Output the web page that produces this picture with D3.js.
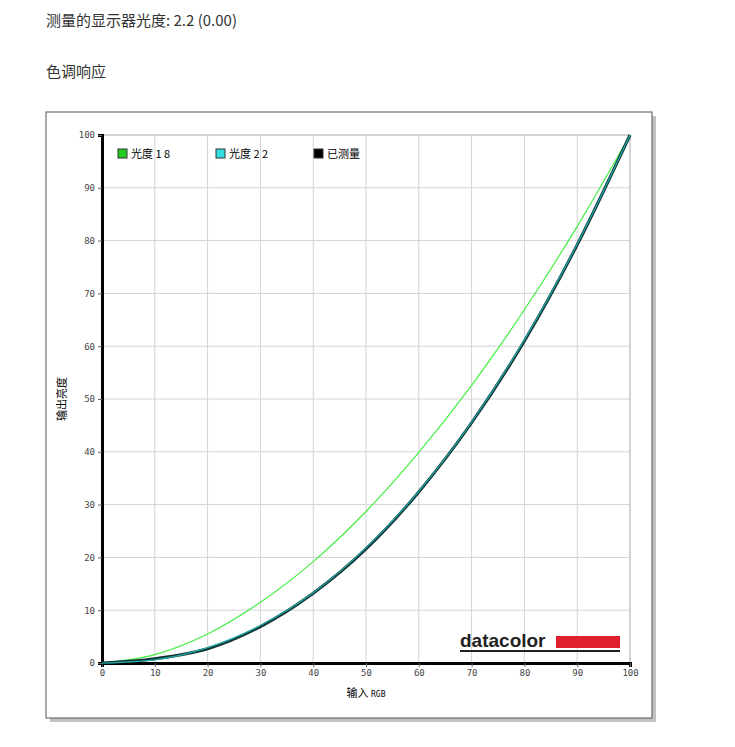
<!DOCTYPE html>
<html><head><meta charset="utf-8">
<script src="https://cdn.jsdelivr.net/npm/d3@7"></script>
<style>body{margin:0;background:#fff;font-family:"Noto Sans CJK SC",sans-serif;}</style>
</head><body>
<script>
// values
var inputs = [0,10,20,30,40,50,60,70,80,90,100];
var gamma18 = [0,1.6,5.5,11.5,19.2,28.7,39.9,52.6,66.9,82.7,100];
var gamma22 = [0,0.6,2.9,7.1,13.3,21.8,32.5,45.6,61.2,79.3,100];
var measured = [0,0.8,2.7,6.9,13.2,21.6,32.4,45.5,61.0,79.2,100];
var ticks = [0,10,20,30,40,50,60,70,80,90,100];
var legendItems = [{name:"光度 1 8",color:"#22cc22"},{name:"光度 2 2",color:"#33dddd"},{name:"已测量",color:"#000"}];

var svg = d3.select("body").append("svg").attr("width",735).attr("height",747);

svg.append("text").attr("x",46).attr("y",26).attr("font-size",15).attr("fill","#333").text("测量的显示器光度:  2.2 (0.00)");
svg.append("text").attr("x",46).attr("y",77).attr("font-size",15).attr("fill","#333").text("色调响应");

// frame with shadow
svg.append("rect").attr("x",50).attr("y",116).attr("width",606).attr("height",606).attr("fill","#999").attr("opacity",0.6);
svg.append("rect").attr("x",46).attr("y",112).attr("width",606).attr("height",606).attr("fill","#fff").attr("stroke","#555");

var x = d3.scaleLinear().domain([0,100]).range([102,630]);
var y = d3.scaleLinear().domain([0,100]).range([663,135]);

var g = svg.append("g");
g.selectAll(".vg").data(ticks).enter().append("line")
  .attr("x1",d=>x(d)).attr("x2",d=>x(d)).attr("y1",y(0)).attr("y2",y(100)).attr("stroke","#d4d4d4");
g.selectAll(".hg").data(ticks).enter().append("line")
  .attr("x1",x(0)).attr("x2",x(100)).attr("y1",d=>y(d)).attr("y2",d=>y(d)).attr("stroke","#d4d4d4");
g.append("rect").attr("x",x(0)).attr("y",y(100)).attr("width",x(100)-x(0)).attr("height",y(0)-y(100))
  .attr("fill","none").attr("stroke","#bbb");

var xa = svg.append("g").attr("transform","translate(0,"+y(0)+")")
  .call(d3.axisBottom(x).tickValues(ticks).tickSize(4));
var ya = svg.append("g").attr("transform","translate("+x(0)+",0)")
  .call(d3.axisLeft(y).tickValues(ticks).tickSize(4));
[xa,ya].forEach(function(a){
  a.select(".domain").attr("stroke","#000").attr("stroke-width",3);
  a.selectAll("text").attr("font-family","DejaVu Sans Mono").attr("font-size",9).attr("fill","#444");
  a.selectAll(".tick line").attr("stroke","#666");
});

svg.append("text").attr("x",366).attr("y",697).attr("text-anchor","middle").attr("font-size",11)
  .text("输入 ").append("tspan").attr("font-size",8).attr("font-family","DejaVu Sans Mono").text("RGB");
svg.append("text").attr("transform","translate(66,399) rotate(-90)").attr("text-anchor","middle")
  .attr("font-size",11).text("输出亮度");

var line = d3.line().x((d,i)=>x(inputs[i])).y(d=>y(d)).curve(d3.curveMonotoneX);
svg.append("path").attr("d",line(gamma18)).attr("fill","none").attr("stroke","#44ee44").attr("stroke-width",1.2);
svg.append("path").attr("d",line(measured)).attr("fill","none").attr("stroke","#113333").attr("stroke-width",3);
svg.append("path").attr("d",line(gamma22)).attr("fill","none").attr("stroke","#22aaaa").attr("stroke-width",1.2);

var lg = svg.selectAll(".lg").data(legendItems).enter().append("g")
  .attr("transform",(d,i)=>"translate("+[118,216,314][i]+",157)");
lg.append("rect").attr("x",0).attr("y",-8).attr("width",9).attr("height",9).attr("fill",d=>d.color).attr("stroke","#333");
lg.append("text").attr("x",13).attr("y",1).attr("font-size",11).text(d=>d.name);

// logo
svg.append("text").attr("x",460).attr("y",647).attr("font-family","Liberation Sans").attr("font-weight","bold")
  .attr("font-size",19).attr("fill","#222").text("datacolor");
svg.append("rect").attr("x",556).attr("y",636).attr("width",64).attr("height",12).attr("fill","#e0202e");
svg.append("rect").attr("x",460).attr("y",650).attr("width",160).attr("height",2).attr("fill","#222");
</script>
</body></html>
